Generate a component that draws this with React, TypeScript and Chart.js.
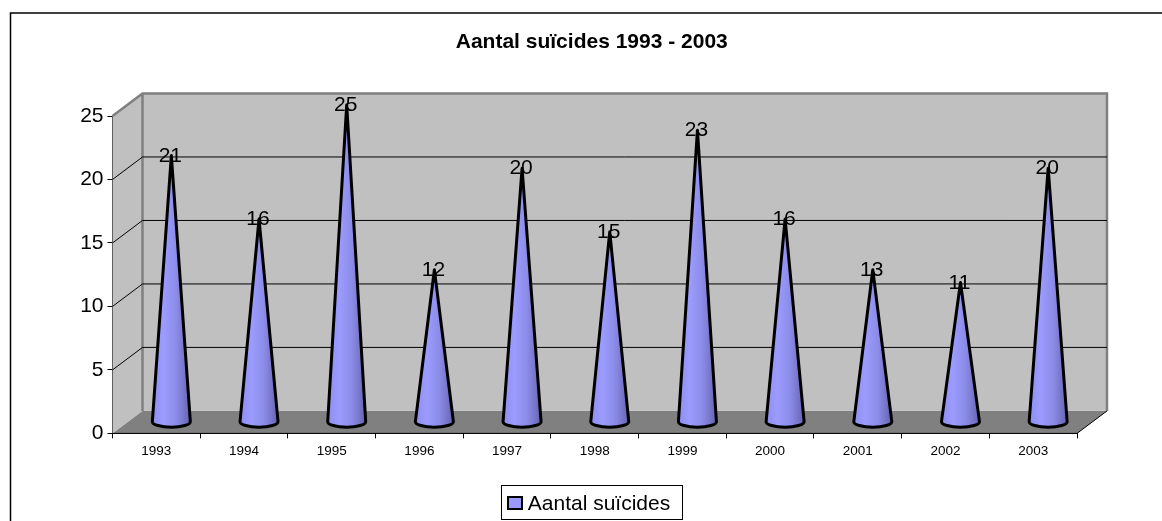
import React, { useEffect, useRef } from "react";
import { Chart, registerables } from "chart.js";

Chart.register(...registerables);

const categories = ["1993", "1994", "1995", "1996", "1997", "1998", "1999", "2000", "2001", "2002", "2003"];
// Cone heights; the 2001 cone stands at 12 although it is labelled 13.
const coneHeights = [21, 16, 25, 12, 20, 15, 23, 16, 12, 11, 20];
const valueLabels = ["21", "16", "25", "12", "20", "15", "23", "16", "13", "11", "20"];
const seriesName = "Aantal suïcides";
const chartTitle = "Aantal suïcides 1993 - 2003";
const yTicks = [0, 5, 10, 15, 20, 25];

const FONT = "'Liberation Sans', Arial, sans-serif";
const DEPTH_X = 30;
const DEPTH_Y = 22.5;
const CONE_R = 19;
const CONE_MINOR = 5.5;
const SERIES_COLOR = "#9999FF";

const cube3d = {
  id: "cube3d",
  afterLayout(chart: any) {
    // Excel centres the title and legend slightly left of the plot's centre.
    chart.titleBlock.left -= 3;
    chart.titleBlock.right -= 3;
    chart.legend.left -= 1;
    chart.legend.right -= 1;
    chart.legend.top += 5;
    chart.legend.bottom += 5;
  },
  beforeDatasetsDraw(chart: any) {
    const { ctx, chartArea: a, scales } = chart;
    const y = scales.y;
    const L = a.left, R = a.right, T = a.top, B = a.bottom;
    ctx.save();
    // outer frame
    ctx.strokeStyle = "#000";
    ctx.lineWidth = 1.5;
    ctx.beginPath();
    ctx.moveTo(10.5, 521);
    ctx.lineTo(10.5, 13);
    ctx.lineTo(1162, 13);
    ctx.stroke();
    // side wall
    ctx.fillStyle = "#C0C0C0";
    ctx.beginPath();
    ctx.moveTo(L, B);
    ctx.lineTo(L + DEPTH_X, B - DEPTH_Y);
    ctx.lineTo(L + DEPTH_X, T - DEPTH_Y);
    ctx.lineTo(L, T);
    ctx.closePath();
    ctx.fill();
    // back wall
    ctx.fillRect(L + DEPTH_X, T - DEPTH_Y, R - L, B - T);
    // floor
    ctx.fillStyle = "#808080";
    ctx.beginPath();
    ctx.moveTo(L, B);
    ctx.lineTo(L + DEPTH_X, B - DEPTH_Y);
    ctx.lineTo(R + DEPTH_X, B - DEPTH_Y);
    ctx.lineTo(R, B);
    ctx.closePath();
    ctx.fill();
    // wall edges
    ctx.strokeStyle = "#808080";
    ctx.lineWidth = 2.5;
    ctx.beginPath();
    ctx.moveTo(L, T);
    ctx.lineTo(L + DEPTH_X, T - DEPTH_Y);
    ctx.lineTo(R + DEPTH_X, T - DEPTH_Y);
    ctx.lineTo(R + DEPTH_X, B - DEPTH_Y);
    ctx.moveTo(L + DEPTH_X, T - DEPTH_Y);
    ctx.lineTo(L + DEPTH_X, B - DEPTH_Y);
    ctx.stroke();
    // grid lines
    ctx.strokeStyle = "#000";
    ctx.lineWidth = 1;
    yTicks.slice(1, -1).forEach((v) => {
      const py = y.getPixelForValue(v);
      ctx.beginPath();
      ctx.moveTo(L, py);
      ctx.lineTo(L + DEPTH_X, py - DEPTH_Y);
      ctx.lineTo(R + DEPTH_X, py - DEPTH_Y);
      ctx.stroke();
    });
    // front floor edges
    ctx.beginPath();
    ctx.moveTo(L, B);
    ctx.lineTo(R, B);
    ctx.lineTo(R + DEPTH_X, B - DEPTH_Y);
    ctx.stroke();
    ctx.restore();
  },
  beforeDatasetDraw(chart: any) {
    const { ctx } = chart;
    const meta = chart.getDatasetMeta(0);
    ctx.save();
    meta.data.forEach((bar: any, i: number) => {
      const cx = bar.x + DEPTH_X / 2;
      const tip = bar.y - DEPTH_Y / 2;
      const base = bar.base - DEPTH_Y / 2;
      const g = ctx.createLinearGradient(cx - CONE_R, 0, cx + CONE_R, 0);
      g.addColorStop(0, "#8E8EF0");
      g.addColorStop(0.3, "#9C9CFF");
      g.addColorStop(0.65, "#8A8AE6");
      g.addColorStop(1, "#6464B0");
      ctx.beginPath();
      ctx.moveTo(cx, tip);
      ctx.lineTo(cx - CONE_R, base);
      ctx.ellipse(cx, base, CONE_R, CONE_MINOR, 0, Math.PI, 0, true);
      ctx.closePath();
      ctx.fillStyle = g;
      ctx.fill();
      ctx.strokeStyle = "#000";
      ctx.lineWidth = 3;
      ctx.lineJoin = "round";
      ctx.stroke();
      ctx.fillStyle = "#000";
      ctx.font = `21px ${FONT}`;
      ctx.textAlign = "center";
      ctx.textBaseline = "middle";
      ctx.fillText(valueLabels[i], cx - 1, tip + 0.3);
    });
    ctx.restore();
    return false;
  },
  afterDraw(chart: any) {
    const { ctx } = chart;
    ctx.save();
    ctx.strokeStyle = "#000";
    ctx.lineWidth = 1;
    ctx.strokeRect(501.5, 485.5, 181, 34);
    ctx.fillStyle = SERIES_COLOR;
    ctx.lineWidth = 2;
    ctx.fillRect(508, 497, 14, 12);
    ctx.strokeRect(508, 497, 14, 12);
    ctx.restore();
  },
};

export default function App() {
  const ref = useRef<HTMLCanvasElement | null>(null);
  useEffect(() => {
    document.body.style.margin = "0";
    document.body.style.background = "#fff";
    const chart = new Chart(ref.current as HTMLCanvasElement, {
      type: "bar",
      data: {
        labels: categories,
        datasets: [
          {
            label: seriesName,
            data: coneHeights,
            backgroundColor: SERIES_COLOR,
            borderColor: "#000",
            borderWidth: 2,
          },
        ],
      },
      plugins: [cube3d],
      options: {
        responsive: false,
        animation: false,
        devicePixelRatio: 1,
        layout: { padding: { left: 0, right: 85, top: 0, bottom: 1 } },
        plugins: {
          tooltip: { enabled: false },
          title: {
            display: true,
            text: chartTitle,
            color: "#000",
            fullSize: false,
            font: { family: FONT, size: 21, weight: "bold" },
            padding: { top: 29.4, bottom: 61.4 },
          },
          legend: {
            display: true,
            position: "bottom",
            fullSize: false,
            labels: {
              color: "#000",
              boxWidth: 0,
              boxHeight: 14,
              padding: 3,
              font: { family: FONT, size: 21 },
              generateLabels: (chart: any) =>
                chart.data.datasets.map((d: any, i: number) => ({
                  text: d.label,
                  fillStyle: "rgba(0,0,0,0)",
                  strokeStyle: "rgba(0,0,0,0)",
                  lineWidth: 0,
                  fontColor: "#000",
                  datasetIndex: i,
                })),
            },
          },
        },
        scales: {
          x: {
            type: "category",
            offset: true,
            afterFit: (s: any) => {
              s.height = 52.6;
            },
            grid: { display: true, drawOnChartArea: false, drawTicks: true, tickLength: 5, color: "#000", offset: true },
            border: { display: true, color: "#000" },
            ticks: { color: "#000", font: { family: FONT, size: 13.5 }, maxRotation: 0, autoSkip: false, padding: 5 },
          },
          y: {
            type: "linear",
            min: 0,
            max: 25,
            afterFit: (s: any) => {
              s.width = 112.5;
            },
            afterBuildTicks: (s: any) => {
              s.ticks = yTicks.map((value) => ({ value }));
            },
            grid: { display: true, drawOnChartArea: false, drawTicks: true, tickLength: 5, color: "#000" },
            border: { display: true, color: "#000" },
            ticks: { color: "#000", font: { family: FONT, size: 21 }, padding: 4 },
          },
        },
      } as any,
    });
    return () => chart.destroy();
  }, []);
  return (
    <canvas
      ref={ref}
      width={1162}
      height={521}
      style={{ display: "block", position: "fixed", left: 0, top: 0 }}
    />
  );
}
